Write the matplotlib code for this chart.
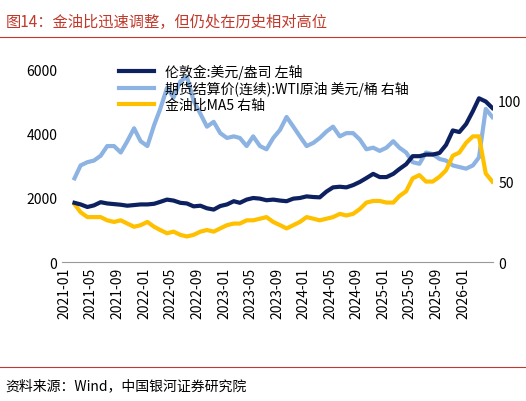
import matplotlib
matplotlib.use("Agg")
import matplotlib.pyplot as plt
import pandas as pd

plt.rcParams['font.family'] = ['Noto Sans CJK SC', 'DejaVu Sans']

dates = pd.date_range("2021-01-15", periods=64, freq="MS") + pd.Timedelta(days=14)
gold = [1850,1800,1720,1770,1870,1830,1810,1790,1760,1780,1800,1800,
        1820,1880,1950,1920,1850,1830,1740,1760,1680,1640,1750,1800,
        1900,1850,1950,2000,1980,1930,1950,1920,1900,1980,2000,2050,
        2030,2020,2200,2330,2350,2330,2400,2500,2620,2750,2650,2650,
        2750,2900,3050,3300,3300,3350,3350,3400,3650,4100,4050,4300,
        4700,5100,5000,4800]
wti = [52,60,62,63,66,72,72,68,75,83,75,72,
       85,95,108,102,112,115,100,92,84,87,80,77,
       78,77,72,78,72,70,77,82,90,84,78,72,
       74,77,81,84,78,80,80,76,70,71,69,71,
       75,71,68,62,61,68,67,64,63,60,59,58,
       60,65,95,90]
ratio = [36,31,28,28,28,26,25,26,24,22,23,25,
         22,20,18,19,17,16,17,19,20,19,21,23,
         24,24,26,26,27,28,25,23,21,23,25,28,
         27,26,27,28,30,29,30,33,37,38,38,37,
         37,41,44,52,54,50,50,53,57,66,68,74,
         78,78,55,50]

fig = plt.figure(figsize=(5.26, 4.02), dpi=100)
ax = fig.add_axes([0.118, 0.345, 0.82, 0.48])
ax2 = ax.twinx()
l1, = ax.plot(dates, gold, color='#0d2060', lw=3, zorder=3)
l2, = ax2.plot(dates, wti, color='#8db3e2', lw=3)
l3, = ax2.plot(dates, ratio, color='#ffc000', lw=3)
ax.set_zorder(ax2.get_zorder() + 1); ax.patch.set_visible(False)
ax.set_ylim(0, 6000); ax.set_yticks([0, 2000, 4000, 6000])
ax2.set_ylim(0, 119.5); ax2.set_yticks([0, 50, 100])
ax.set_xlim(pd.Timestamp("2020-12-20"), pd.Timestamp("2026-05-20"))
ticks = pd.date_range("2021-01-01", "2026-01-01", freq="4MS")
ax.set_xticks(ticks)
ax.set_xticklabels([t.strftime("%Y-%m") for t in ticks], rotation=90, fontsize=10)
for a in (ax, ax2):
    for s in a.spines.values():
        s.set_visible(False)
    a.tick_params(length=0, labelsize=10)
ax.spines['bottom'].set_visible(True); ax.spines['bottom'].set_color('#999999')
ax.legend([l1, l2, l3], ['伦敦金:美元/盎司 左轴', '期货结算价(连续):WTI原油 美元/桶 右轴', '金油比MA5 右轴'],
          loc='upper left', bbox_to_anchor=(0.12, 1.06), frameon=False, fontsize=10,
          handlelength=2.5, labelspacing=0.15, borderaxespad=0)
fig.text(0.01, 0.965, '图14：金油比迅速调整，但仍处在历史相对高位', color='#c0392b', fontsize=11, va='top')
fig.add_artist(plt.Line2D([0.0, 1.0], [0.905, 0.905], color='#c0392b', lw=0.8))
fig.add_artist(plt.Line2D([0.0, 1.0], [0.085, 0.085], color='#c0392b', lw=0.8))
fig.text(0.01, 0.04, '资料来源：Wind，中国银河证券研究院', fontsize=10, style='italic', va='center')
fig.savefig("out.png", dpi=100)
